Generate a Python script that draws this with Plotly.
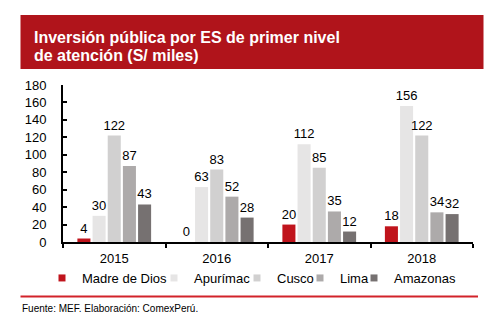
import plotly.graph_objects as go

years = ["2015", "2016", "2017", "2018"]
series_names = ["Madre de Dios", "Apurímac", "Cusco", "Lima", "Amazonas"]
madre_de_dios = [4, 0, 20, 18]
apurimac = [30, 63, 112, 156]
cusco = [122, 83, 85, 122]
lima = [87, 52, 35, 34]
amazonas = [43, 28, 12, 32]
colors = ["#C0141C", "#E6E5E5", "#D1D0D0", "#ADAAAA", "#767171"]
y_ticks = list(range(0, 181, 20))

title_lines = ["Inversión pública por ES de primer nivel", "de atención (S/ miles)"]
source_text = "Fuente: MEF. Elaboración: ComexPerú."

FONT = "Liberation Sans, Arial, sans-serif"

# legend entry widths (px) so that entries sit where the reference places them
legend_widths = [67, 38, 18, 9, None]

fig = go.Figure()
for name, vals, col, lw in zip(series_names, [madre_de_dios, apurimac, cusco, lima, amazonas], colors, legend_widths):
    fig.add_trace(go.Bar(
        x=years, y=vals, name=name,
        marker=dict(color=col, line=dict(width=0)),
        text=[str(v) for v in vals], textposition="outside",
        textfont=dict(size=13, color="#000000", family=FONT),
        constraintext="none", textangle=0, cliponaxis=False,
        showlegend=False,
    ))
    leg = dict(
        x=[None], y=[None], mode="markers", name=name,
        marker=dict(symbol="square", size=7, color=col),
        showlegend=True,
    )
    if lw is not None:
        leg["legendwidth"] = lw
    fig.add_trace(go.Scatter(**leg))

# plot area in pixels: x 63..473, y 85..242
L, R, T, B = 63, 473, 85, 242
W, H = R - L, B - T

def px(x):
    return (x - L) / W

def py(y):
    return (B - y) / H

annotations = [
    dict(text="<b>" + line + "</b>", xref="paper", yref="paper",
         x=px(32), y=py(yc), xanchor="left", yanchor="middle",
         align="left", showarrow=False,
         font=dict(size=16, color="white", family=FONT))
    for line, yc in zip(title_lines, [37.5, 55])
]
annotations.append(
    dict(text=source_text, xref="paper", yref="paper",
         x=px(20), y=py(308), xanchor="left", yanchor="middle",
         align="left", showarrow=False,
         font=dict(size=10, color="#000000", family=FONT))
)

fig.update_layout(
    width=499, height=331,
    margin=dict(l=L, r=499 - R, t=T, b=331 - B),
    paper_bgcolor="white", plot_bgcolor="white",
    barmode="group", bargap=0.26, bargroupgap=0.14,
    font=dict(family=FONT, size=13, color="#000000"),
    xaxis=dict(
        showline=True, linecolor="#000000", linewidth=2,
        ticks="outside", ticklen=4, tickcolor="#000000", tickwidth=1.5,
        tickson="boundaries", showgrid=False,
        ticklabelstandoff=3,
        tickfont=dict(size=13, family=FONT, color="#000000"),
    ),
    yaxis=dict(
        range=[0, 180], tickvals=y_ticks,
        showline=True, linecolor="#000000", linewidth=2,
        ticks="inside", ticklen=4, tickcolor="#000000", tickwidth=1.5,
        showgrid=False, zeroline=False,
        ticklabelstandoff=12,
        tickfont=dict(size=13, family=FONT, color="#000000"),
    ),
    legend=dict(
        orientation="h", x=px(42), xanchor="left", y=py(278), yanchor="middle",
        font=dict(size=13, family=FONT, color="#000000"),
        itemwidth=30, tracegroupgap=0, bgcolor="rgba(0,0,0,0)",
        borderwidth=0,
    ),
    shapes=[
        dict(type="rect", xref="paper", yref="paper",
             x0=px(20.5), x1=px(483.5), y0=py(69), y1=py(15),
             fillcolor="#B0141B", line=dict(width=0), layer="below"),
        dict(type="line", xref="paper", yref="paper",
             x0=px(20.5), x1=px(478), y0=py(296.5), y1=py(296.5),
             line=dict(color="#D2232A", width=2)),
    ],
    annotations=annotations,
)

fig.write_html("out.html")
